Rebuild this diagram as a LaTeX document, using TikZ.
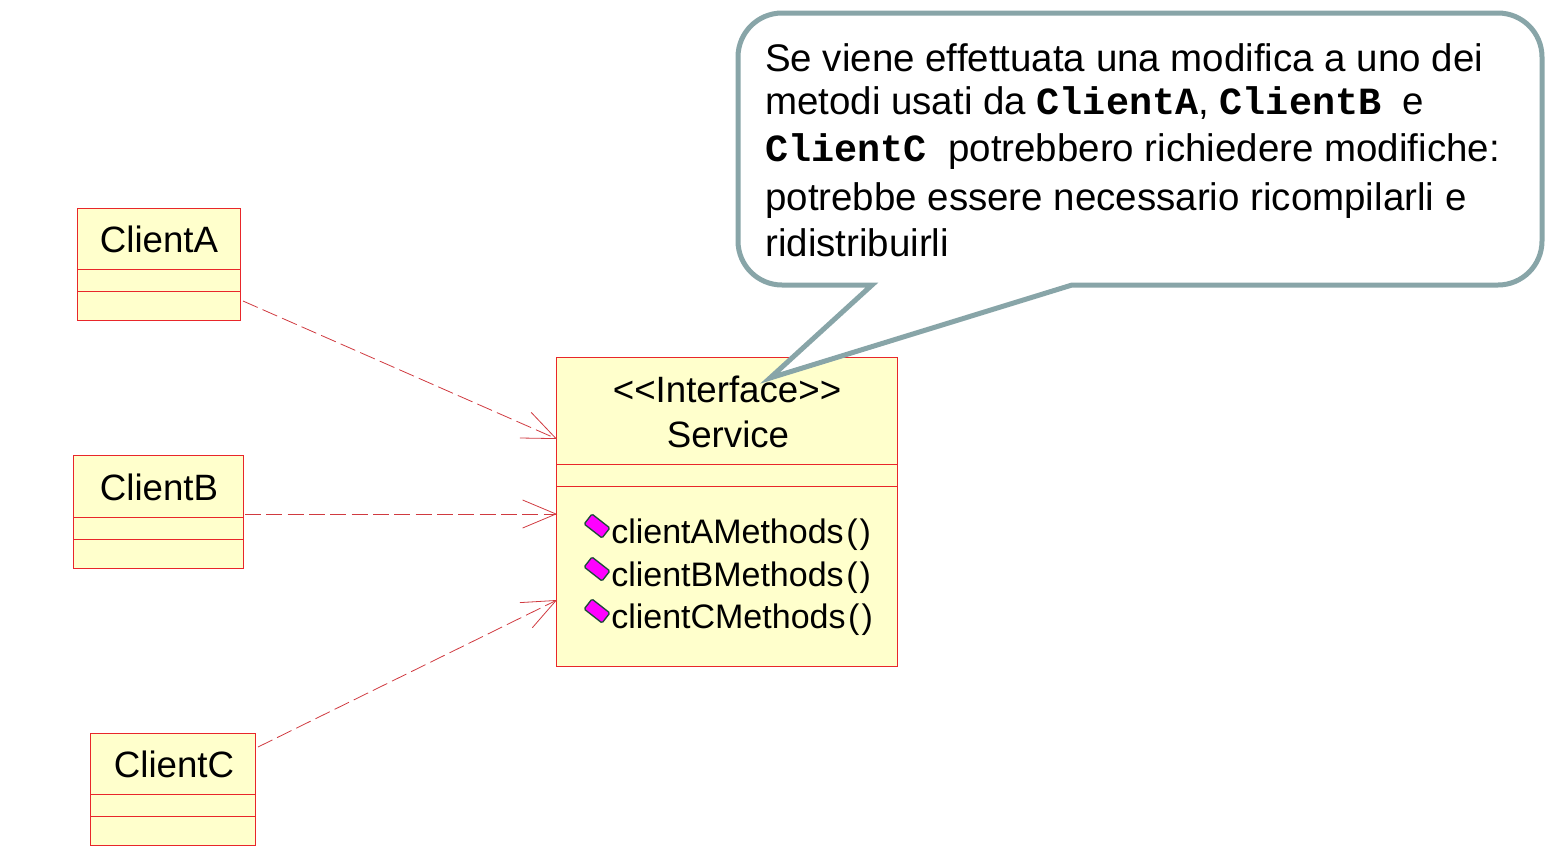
\documentclass[tikz,border=0pt]{standalone}
\usepackage{fontspec}
\setmainfont{Liberation Sans}
\setmonofont{Liberation Mono}
\usetikzlibrary{arrows.meta}
\definecolor{umlred}{HTML}{E8262A}
\definecolor{umlfill}{HTML}{FFFFCC}
\definecolor{notegray}{HTML}{88A5A8}
\definecolor{dashred}{HTML}{D03A40}
\definecolor{iconfill}{HTML}{FF00FF}
\definecolor{iconedge}{HTML}{1F4A3A}
\tikzset{
  umlbox/.style={draw=umlred, fill=umlfill, line width=0.75pt, inner sep=0pt},
  umltext/.style={font=\fontsize{27.5}{32}\selectfont, inner sep=0pt},
  methodtext/.style={font=\fontsize{25.5}{30}\selectfont, inner sep=0pt, anchor=base west},
  notetext/.style={font=\fontsize{28.85}{33}\selectfont, inner sep=0pt, anchor=base west},
  dep/.style={draw=dashred, line width=0.6pt, dash pattern=on 12pt off 4pt,
    -{Straight Barb[length=25pt, width=21pt, line width=0.6pt]}},
  methodicon/.style={draw=iconedge, fill=iconfill, line width=1pt, rounded corners=1pt,
    minimum width=17pt, minimum height=9.5pt, inner sep=0pt, rotate=-38}
}
\newcommand{\codeword}[1]{{\ttfamily\bfseries #1}}
\begin{document}
\begin{tikzpicture}[x=0.75pt, y=-0.75pt]
\useasboundingbox (0,0) rectangle (1550,858);

\node[umlbox, minimum width=122.25pt, minimum height=84pt] (clientA) at (159,264.5) {};
\node[umlbox, minimum width=127.5pt, minimum height=84.75pt] (clientB) at (158.5,512) {};
\node[umlbox, minimum width=123.75pt, minimum height=84pt] (clientC) at (173,789.5) {};
\node[umlbox, minimum width=255.75pt, minimum height=231.75pt] (service) at (727,512) {};

\foreach \y in {269,291}
\draw[umlred, line width=0.6pt] (clientA.west |- 0,\y) -- (clientA.east |- 0,\y);
\foreach \y in {517,539}
\draw[umlred, line width=0.6pt] (clientB.west |- 0,\y) -- (clientB.east |- 0,\y);
\foreach \y in {794,816}
\draw[umlred, line width=0.6pt] (clientC.west |- 0,\y) -- (clientC.east |- 0,\y);
\foreach \y in {464,486}
\draw[umlred, line width=0.6pt] (service.west |- 0,\y) -- (service.east |- 0,\y);

\node[umltext] (clientAname) at (159,239) {ClientA};
\node[umltext] (clientBname) at (159,487) {ClientB};
\node[umltext] (clientCname) at (174,764) {ClientC};
\node[umltext] (serviceStereo) at (727,389) {<{}<Interface>{}>};
\node[umltext] (serviceName) at (728,434) {Service};

\foreach \n/\y in {A/543,B/586,C/628}
{
\node[methodicon] (icon\n) at (597,\y-17) {};
\node[methodtext] (method\n) at (611,\y) {client\n Methods\kern2pt(\kern1.5pt)};
}

\coordinate (fromA) at (243,301);
\coordinate (fromB) at (245,514);
\coordinate (fromC) at (258,747);
\coordinate (toA) at (557,439);
\coordinate (toB) at (557,514);
\coordinate (toC) at (557,600);
\draw[dep] (fromA) -- (toA);
\draw[dep] (fromB) -- (toB);
\draw[dep] (fromC) -- (toC);

\coordinate (tip) at (770,378);
\draw[notegray, fill=white, line width=3.75pt, line join=miter]
  (872,285) -- (tip) -- (1072,285) -- (1498,285)
  arc[start angle=270, end angle=360, radius=33pt] -- (1542,57)
  arc[start angle=0, end angle=90, radius=33pt] -- (782,13)
  arc[start angle=90, end angle=180, radius=33pt] -- (738,241)
  arc[start angle=180, end angle=270, radius=33pt] -- cycle;

\node[notetext] (noteA) at (765,71) {Se viene effettuata una modifica a uno dei};
\node[notetext] (noteB) at (765,114) {metodi usati da \codeword{ClientA}, \codeword{ClientB} \ e};
\node[notetext] (noteC) at (765,161) {\codeword{ClientC} \ potrebbero richiedere modifiche:};
\node[notetext] (noteD) at (765,210) {potrebbe essere necessario ricompilarli e};
\node[notetext] (noteE) at (765,256) {ridistribuirli};
\end{tikzpicture}
\end{document}
